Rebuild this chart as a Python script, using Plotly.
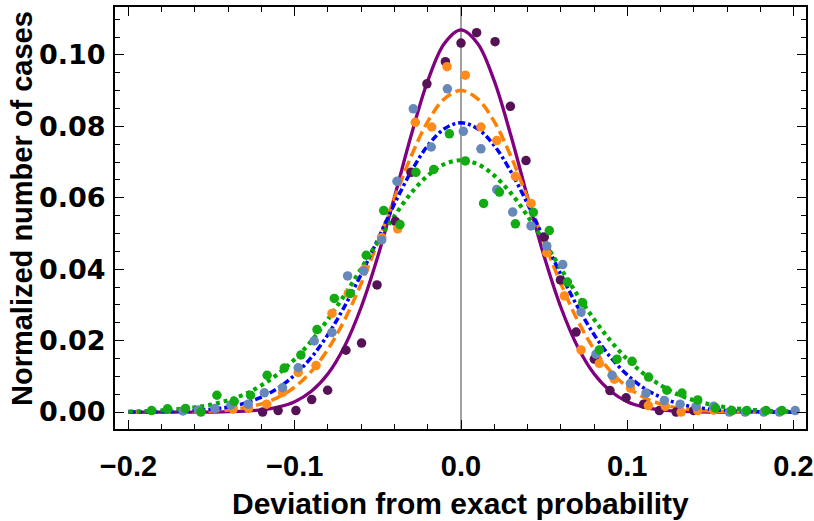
import plotly.graph_objects as go

# ---------------- data ----------------
# smooth fitted curves sampled every 0.01 (x from -0.20 to 0.20)
curve_x = [round(k / 100, 2) for k in range(-20, 21)]

purple_curve = [0, 0, 0, 0, 0, 0, 0.0001, 0.00025, 0.0006, 0.0014, 0.0029,
                0.0058, 0.0107, 0.0184, 0.0294, 0.0436, 0.0602, 0.0774, 0.0927, 0.1032,
                0.1070,
                0.1032, 0.0927, 0.0774, 0.0602, 0.0436, 0.0294, 0.0184, 0.0107, 0.0058,
                0.0029, 0.0014, 0.0006, 0.00025, 0.0001, 0, 0, 0, 0, 0, 0]
orange_curve = [0, 0, 0, 0.00005, 0.00013, 0.0003, 0.0006, 0.0012, 0.0023, 0.0041, 0.0070,
                0.0114, 0.0176, 0.0258, 0.0360, 0.0476, 0.0599, 0.0716, 0.0813, 0.0877,
                0.0900,
                0.0877, 0.0813, 0.0716, 0.0599, 0.0476, 0.0360, 0.0258, 0.0176, 0.0114,
                0.0070, 0.0041, 0.0023, 0.0012, 0.0006, 0.0003, 0.00013, 0.00005, 0, 0, 0]
blue_curve = [0, 0, 0.0001, 0.0002, 0.0004, 0.0008, 0.0014, 0.0025, 0.0042, 0.0067, 0.0104,
              0.0153, 0.0217, 0.0296, 0.0386, 0.0484, 0.0583, 0.0673, 0.0746, 0.0793,
              0.0810,
              0.0793, 0.0746, 0.0673, 0.0583, 0.0484, 0.0386, 0.0296, 0.0217, 0.0153,
              0.0104, 0.0067, 0.0042, 0.0025, 0.0014, 0.0008, 0.0004, 0.0002, 0.0001, 0, 0]
green_curve = [0.00014, 0.00025, 0.00045, 0.0008, 0.0013, 0.0021, 0.0033, 0.0050, 0.0075,
               0.0107, 0.0148, 0.0199, 0.0260, 0.0328, 0.0402, 0.0477, 0.0549, 0.0613,
               0.0662, 0.0694,
               0.0705,
               0.0694, 0.0662, 0.0613, 0.0549, 0.0477, 0.0402, 0.0328, 0.0260, 0.0199,
               0.0148, 0.0107, 0.0075, 0.0050, 0.0033, 0.0021, 0.0013, 0.0008, 0.00045,
               0.00025, 0.00014]

# measured histogram points
purple_x = [-0.1193, -0.1100, -0.0993, -0.0898, -0.0802, -0.0692, -0.0598, -0.0505, -0.0395,
            -0.0301, -0.0205, -0.0094, 0.0000, 0.0094, 0.0205, 0.0297, 0.0391, 0.0501,
            0.0598, 0.0692, 0.0802, 0.0896, 0.0993, 0.1099, 0.1193, 0.1294, 0.1400]
purple_y = [0.0000, 0.0004, 0.0004, 0.0035, 0.0061, 0.0173, 0.0193, 0.0356, 0.0534,
            0.0671, 0.0919, 0.0981, 0.1033, 0.1062, 0.1037, 0.0856, 0.0704, 0.0490,
            0.0370, 0.0224, 0.0148, 0.0060, 0.0040, 0.0022, 0.0004, 0.0000, 0.0004]

orange_x = [-0.1370, -0.1278, -0.1169, -0.1073, -0.0979, -0.0872, -0.0776, -0.0678, -0.0580,
            -0.0477, -0.0381, -0.0275, -0.0176, -0.0084, 0.0026, 0.0120, 0.0215, 0.0327,
            0.0421, 0.0516, 0.0622, 0.0722, 0.0832, 0.0922, 0.1019, 0.1127, 0.1229,
            0.1324, 0.1424, 0.1520]
orange_y = [0.0009, 0.0010, 0.0022, 0.0055, 0.0111, 0.0130, 0.0276, 0.0332, 0.0400,
            0.0488, 0.0513, 0.0811, 0.0798, 0.0967, 0.0943, 0.0798, 0.0760, 0.0660,
            0.0584, 0.0446, 0.0325, 0.0174, 0.0136, 0.0092, 0.0067, 0.0018, 0.0016,
            0.0000, 0.0004, 0.0005]

blue_x = [-0.1672, -0.1580, -0.1480, -0.1384, -0.1280, -0.1183, -0.1073, -0.0979, -0.0883,
          -0.0776, -0.0682, -0.0585, -0.0477, -0.0385, -0.0287, -0.0179, -0.0082, 0.0014,
          0.0120, 0.0215, 0.0311, 0.0421, 0.0516, 0.0612, 0.0722, 0.0812, 0.0909, 0.1019,
          0.1113, 0.1223, 0.1318, 0.1414, 0.1520, 0.1614, 0.1709, 0.1821, 0.1915, 0.2010]
blue_y = [0.0003, 0.0006, 0.0010, 0.0020, 0.0022, 0.0054, 0.0068, 0.0124, 0.0199,
          0.0223, 0.0381, 0.0395, 0.0482, 0.0646, 0.0849, 0.0742, 0.0905, 0.0786,
          0.0737, 0.0623, 0.0560, 0.0521, 0.0465, 0.0413, 0.0280, 0.0162, 0.0103, 0.0080,
          0.0053, 0.0032, 0.0022, 0.0016, 0.0016, 0.0000, 0.0000, 0.0000, 0.0000, 0.0004]

green_x = [-0.1861, -0.1765, -0.1657, -0.1564, -0.1468, -0.1364, -0.1266, -0.1166, -0.1063,
           -0.0963, -0.0866, -0.0762, -0.0666, -0.0570, -0.0465, -0.0367, -0.0271, -0.0164,
           -0.0070, 0.0026, 0.0136, 0.0231, 0.0327, 0.0435, 0.0531, 0.0640, 0.0732, 0.0832,
           0.0938, 0.1029, 0.1128, 0.1238, 0.1329, 0.1424, 0.1531, 0.1629, 0.1719, 0.1835,
           0.1930]
green_y = [0.0004, 0.0009, 0.0010, 0.0000, 0.0047, 0.0030, 0.0047, 0.0103, 0.0123,
           0.0160, 0.0231, 0.0318, 0.0332, 0.0439, 0.0564, 0.0525, 0.0671, 0.0679,
           0.0779, 0.0703, 0.0584, 0.0616, 0.0527, 0.0559, 0.0508, 0.0364, 0.0306, 0.0174,
           0.0148, 0.0142, 0.0098, 0.0061, 0.0053, 0.0034, 0.0011, 0.0004, 0.0004, 0.0004,
           0.0004]

x_ticks = [-0.2, -0.1, 0.0, 0.1, 0.2]
y_ticks = [0.00, 0.02, 0.04, 0.06, 0.08, 0.10]
x_title = "Deviation from exact probability"
y_title = "Normalized number of cases"

# ---------------- figure ----------------
fig = go.Figure()

curves = [
    (purple_curve, "#800080", 3.3, "solid"),
    (orange_curve, "#ff8000", 3.5, "11px,5px"),
    (blue_curve, "#0000ff", 3.5, "7px,3px,3px,3px"),
    (green_curve, "#00aa00", 4.2, "4px,4px"),
]
for ys, col, w, dash in curves:
    fig.add_trace(go.Scatter(x=curve_x, y=ys, mode="lines",
                             line=dict(color=col, width=w, dash=dash, shape="spline", smoothing=1.0),
                             hoverinfo="skip"))

points = [
    (purple_x, purple_y, "#561256"),
    (orange_x, orange_y, "#ff8c1a"),
    (blue_x, blue_y, "#6688bb"),
    (green_x, green_y, "#14aa14"),
]
for xs, ys, col in points:
    fig.add_trace(go.Scatter(x=xs, y=ys, mode="markers",
                             marker=dict(color=col, size=9.5, line=dict(width=0))))

fig.update_layout(
    width=814, height=521,
    margin=dict(l=115, r=8, t=7, b=92),
    paper_bgcolor="white", plot_bgcolor="white",
    showlegend=False,
    annotations=[
        dict(text="<b>" + x_title + "</b>", xref="paper", yref="paper",
             x=0.5, y=-0.1777, xanchor="center", yanchor="middle", showarrow=False,
             font=dict(family="Liberation Sans, Arial", size=30, color="black")),
        dict(text="<b>" + y_title + "</b>", xref="paper", yref="paper",
             x=-0.1346, y=0.5237, xanchor="center", yanchor="middle", showarrow=False,
             textangle=-90,
             font=dict(family="Liberation Sans, Arial", size=29, color="black")),
    ],
)
fig.update_xaxes(
    range=[-0.2081, 0.2075], automargin=False,
    tickvals=x_ticks, tickformat=".1f",
    ticks="inside", ticklen=9, tickwidth=1.3, tickcolor="black",
    minor=dict(dtick=0.02, tick0=0, ticks="inside", ticklen=5, tickwidth=1.2, tickcolor="black"),
    showline=True, linecolor="black", linewidth=2, mirror="allticks",
    showgrid=False,
    zeroline=True, zerolinecolor="#a0a0a0", zerolinewidth=1.5,
    tickfont=dict(family="Liberation Sans, Arial", size=29, color="black", weight="bold"),
    ticklabelstandoff=10, ticklabeloverflow="allow",
)
fig.update_yaxes(
    range=[-0.00475, 0.1134], automargin=False,
    tickvals=y_ticks, tickformat=".2f",
    ticks="inside", ticklen=9, tickwidth=1.3, tickcolor="black",
    minor=dict(dtick=0.005, tick0=0, ticks="inside", ticklen=5, tickwidth=1.2, tickcolor="black"),
    showline=True, linecolor="black", linewidth=2, mirror="allticks",
    showgrid=False, zeroline=False,
    tickfont=dict(family="DejaVu Sans", size=27, color="black", weight="bold"),
    ticklabelstandoff=2,
)

fig.write_html("out.html", config={"displayModeBar": False},
               post_script="document.body.style.margin='0';")
